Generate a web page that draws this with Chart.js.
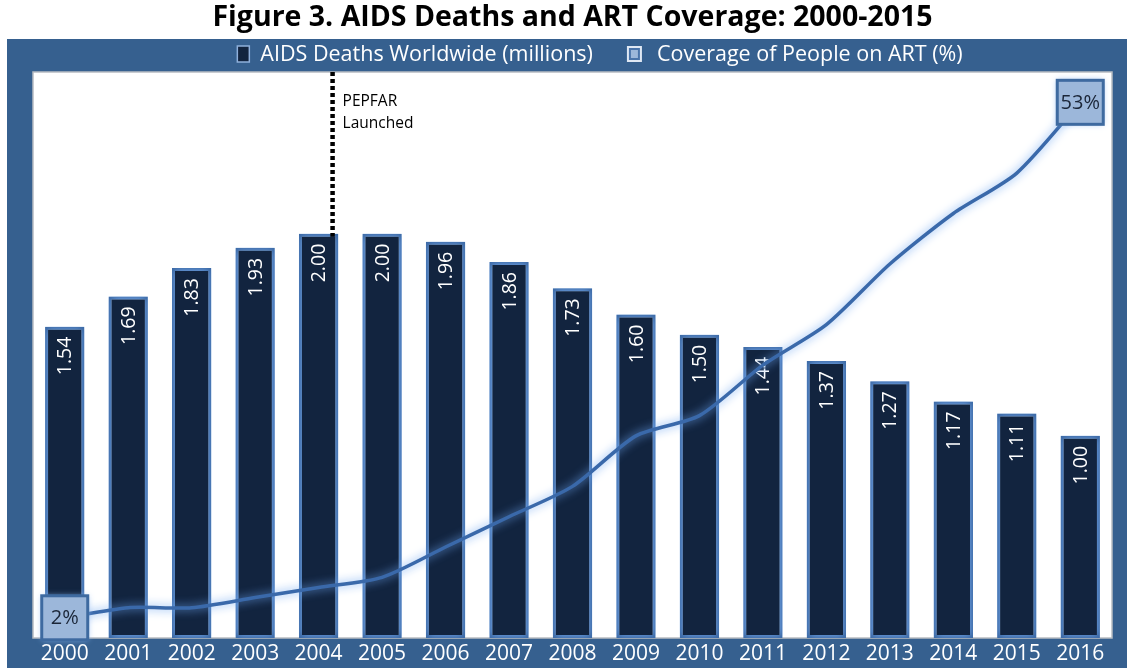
<!DOCTYPE html>
<html>
<head>
<meta charset="utf-8">
<script src="https://cdn.jsdelivr.net/npm/chart.js@4.4.1/dist/chart.umd.min.js"></script>
<style>
  html, body { margin: 0; padding: 0; background: #ffffff; }
  #wrap { width: 1127px; height: 668px; position: relative; }
</style>
</head>
<body>
<div id="wrap"><canvas id="c" width="1127" height="668"></canvas></div>
<script>
// ---- data ----
const years = ['2000','2001','2002','2003','2004','2005','2006','2007','2008','2009','2010','2011','2012','2013','2014','2015','2016'];
const deaths = [1.54, 1.69, 1.83, 1.93, 2.00, 2.00, 1.96, 1.86, 1.73, 1.60, 1.50, 1.44, 1.37, 1.27, 1.17, 1.11, 1.00];
const coverage = [2, 3, 3, 4, 5, 6, 9, 12, 15, 20, 22, 27, 31, 37, 42, 46, 53];
const deathsLabel = 'AIDS Deaths Worldwide (millions)';
const coverageLabel = 'Coverage of People on ART (%)';
const titleText = 'Figure 3. AIDS Deaths and ART Coverage: 2000-2015';
const pepfarIndex = 4;        // PEPFAR launched during 2004
const pepfarOffset = 0.22;    // fraction of the way toward 2005
const pepfarText = ['PEPFAR', 'Launched'];

// ---- style ----
const FONT = '"Open Sans", Lato, sans-serif';
const PANEL = '#36608f';
const BAR_FILL = '#12243f';
const BAR_BORDER = '#3b68a4';
const LINE = '#3a69aa';
const BOX_FILL = '#9cb7da';
const BOX_BORDER = '#3e6aa0';
const LEGEND_CENTER_X = 600;
const LEGEND_Y = 54;

const panelPlugin = {
  id: 'panel',
  beforeDraw(chart) {
    const {ctx, chartArea: a, width, height} = chart;
    ctx.save();
    ctx.fillStyle = '#ffffff';
    ctx.fillRect(0, 0, width, height);
    ctx.fillStyle = PANEL;
    ctx.fillRect(7, 39, width - 7, height - 39);
    ctx.fillStyle = '#ffffff';
    ctx.fillRect(a.left, a.top, a.right - a.left, a.bottom - a.top);
    ctx.strokeStyle = '#b8bcc2';
    ctx.lineWidth = 1.5;
    ctx.strokeRect(a.left, a.top, a.right - a.left, a.bottom - a.top);
    ctx.restore();
  },
  afterDraw(chart) {
    // legend, drawn from the dataset labels
    const ctx = chart.ctx;
    const ds = chart.data.datasets;
    ctx.save();
    ctx.font = '21.5px ' + FONT;
    ctx.textBaseline = 'middle';
    ctx.textAlign = 'left';
    const w1 = ctx.measureText(ds[0].label).width;
    const w2 = ctx.measureText(ds[1].label).width;
    const total = 12 + 11 + w1 + 34 + 15 + 15 + w2;
    let x = LEGEND_CENTER_X - total / 2;
    const y = LEGEND_Y;
    // marker 1
    ctx.fillStyle = BAR_FILL;
    ctx.fillRect(x, y - 8, 12, 16);
    ctx.strokeStyle = '#8fb0dc';
    ctx.lineWidth = 1.5;
    ctx.strokeRect(x, y - 8, 12, 16);
    x += 12 + 11;
    ctx.fillStyle = '#ffffff';
    ctx.fillText(ds[0].label, x, y + 1);
    x += w1 + 34;
    // marker 2
    ctx.fillStyle = '#dfe8f4';
    ctx.fillRect(x, y - 8, 15, 16);
    ctx.fillStyle = '#4a74aa';
    ctx.fillRect(x + 2, y - 6, 11, 12);
    ctx.fillStyle = BOX_FILL;
    ctx.fillRect(x + 4, y - 4, 7, 8);
    x += 15 + 15;
    ctx.fillStyle = '#ffffff';
    ctx.fillText(ds[1].label, x, y + 1);
    ctx.restore();
  }
};

const glowPlugin = {
  id: 'glow',
  beforeDatasetDraw(chart, args) {
    const ctx = chart.ctx;
    ctx.save();
    if (args.meta.type === 'bar') {
      ctx.shadowColor = 'rgba(130,180,245,0.95)';
      ctx.shadowBlur = 7;
    } else {
      ctx.shadowColor = 'rgba(110,165,240,0.95)';
      ctx.shadowBlur = 10;
    }
  },
  afterDatasetDraw(chart, args) {
    const ctx = chart.ctx;
    ctx.restore();
    if (args.meta.type === 'bar') {
      ctx.save();
      ctx.fillStyle = '#ffffff';
      ctx.font = '19.5px ' + FONT;
      ctx.textAlign = 'right';
      ctx.textBaseline = 'middle';
      args.meta.data.forEach((el, i) => {
        ctx.save();
        ctx.translate(el.x, el.y + 10);
        ctx.rotate(-Math.PI / 2);
        ctx.fillText(deaths[i].toFixed(2), 0, 1);
        ctx.restore();
      });
      ctx.restore();
    }
  }
};

const annotPlugin = {
  id: 'annot',
  afterDatasetsDraw(chart) {
    const {ctx, chartArea: a} = chart;
    const xs = chart.scales.x, ys = chart.scales.y;
    // PEPFAR dotted line
    const x0 = xs.getPixelForValue(pepfarIndex);
    const x1 = xs.getPixelForValue(pepfarIndex + 1);
    const px = x0 + (x1 - x0) * pepfarOffset;
    const yEnd = ys.getPixelForValue(deaths[pepfarIndex]) + 3;
    ctx.save();
    ctx.strokeStyle = '#000000';
    ctx.lineWidth = 4.5;
    ctx.setLineDash([4, 3]);
    ctx.beginPath();
    ctx.moveTo(px, a.top);
    ctx.lineTo(px, yEnd);
    ctx.stroke();
    ctx.setLineDash([]);
    ctx.fillStyle = '#000000';
    ctx.font = '15.5px ' + FONT;
    ctx.textAlign = 'left';
    ctx.textBaseline = 'middle';
    pepfarText.forEach((t, i) => ctx.fillText(t, px + 10, a.top + 30 + i * 22));
    ctx.restore();

    // first and last coverage labels
    const meta = chart.getDatasetMeta(1);
    [0, coverage.length - 1].forEach(i => {
      const p = meta.data[i];
      const w = 46, h = 44;
      ctx.save();
      ctx.shadowColor = 'rgba(140,185,245,0.9)';
      ctx.shadowBlur = 6;
      ctx.fillStyle = BOX_FILL;
      ctx.fillRect(p.x - w / 2, p.y - h / 2, w, h);
      ctx.shadowBlur = 0;
      ctx.strokeStyle = BOX_BORDER;
      ctx.lineWidth = 3;
      ctx.strokeRect(p.x - w / 2, p.y - h / 2, w, h);
      ctx.fillStyle = '#1b2638';
      ctx.font = '20px ' + FONT;
      ctx.textAlign = 'center';
      ctx.textBaseline = 'middle';
      ctx.fillText(coverage[i] + '%', p.x, p.y + 1);
      ctx.restore();
    });
  }
};

new Chart(document.getElementById('c'), {
  data: {
    labels: years,
    datasets: [
      {
        type: 'bar',
        label: deathsLabel,
        data: deaths,
        yAxisID: 'y',
        backgroundColor: BAR_FILL,
        borderColor: BAR_BORDER,
        borderWidth: 3,
        borderSkipped: false,
        barPercentage: 0.62,
        categoryPercentage: 1.0,
        order: 2
      },
      {
        type: 'line',
        label: coverageLabel,
        data: coverage,
        yAxisID: 'y2',
        borderColor: LINE,
        borderWidth: 3.5,
        pointRadius: 0,
        tension: 0.25,
        fill: false,
        order: 1
      }
    ]
  },
  options: {
    responsive: false,
    animation: false,
    layout: { padding: { left: 33, right: 15, top: 0, bottom: 0 } },
    scales: {
      x: {
        grid: { display: false, drawTicks: false },
        border: { display: false },
        ticks: { color: '#ffffff', font: { family: FONT, size: 21 }, padding: 3, maxRotation: 0 },
        afterFit(s) { s.height = 30; }
      },
      y: { display: false, min: 0, max: 2.8 },
      y2: { display: false, min: 0, max: 56, position: 'right' }
    },
    plugins: {
      title: {
        display: true,
        text: titleText,
        color: '#000000',
        font: { family: FONT, size: 28.5, weight: 'bold', lineHeight: 1.1 },
        padding: { top: 2, bottom: 38.65 }
      },
      legend: { display: false },
      tooltip: { enabled: false }
    }
  },
  plugins: [panelPlugin, glowPlugin, annotPlugin]
});
</script>
</body>
</html>
